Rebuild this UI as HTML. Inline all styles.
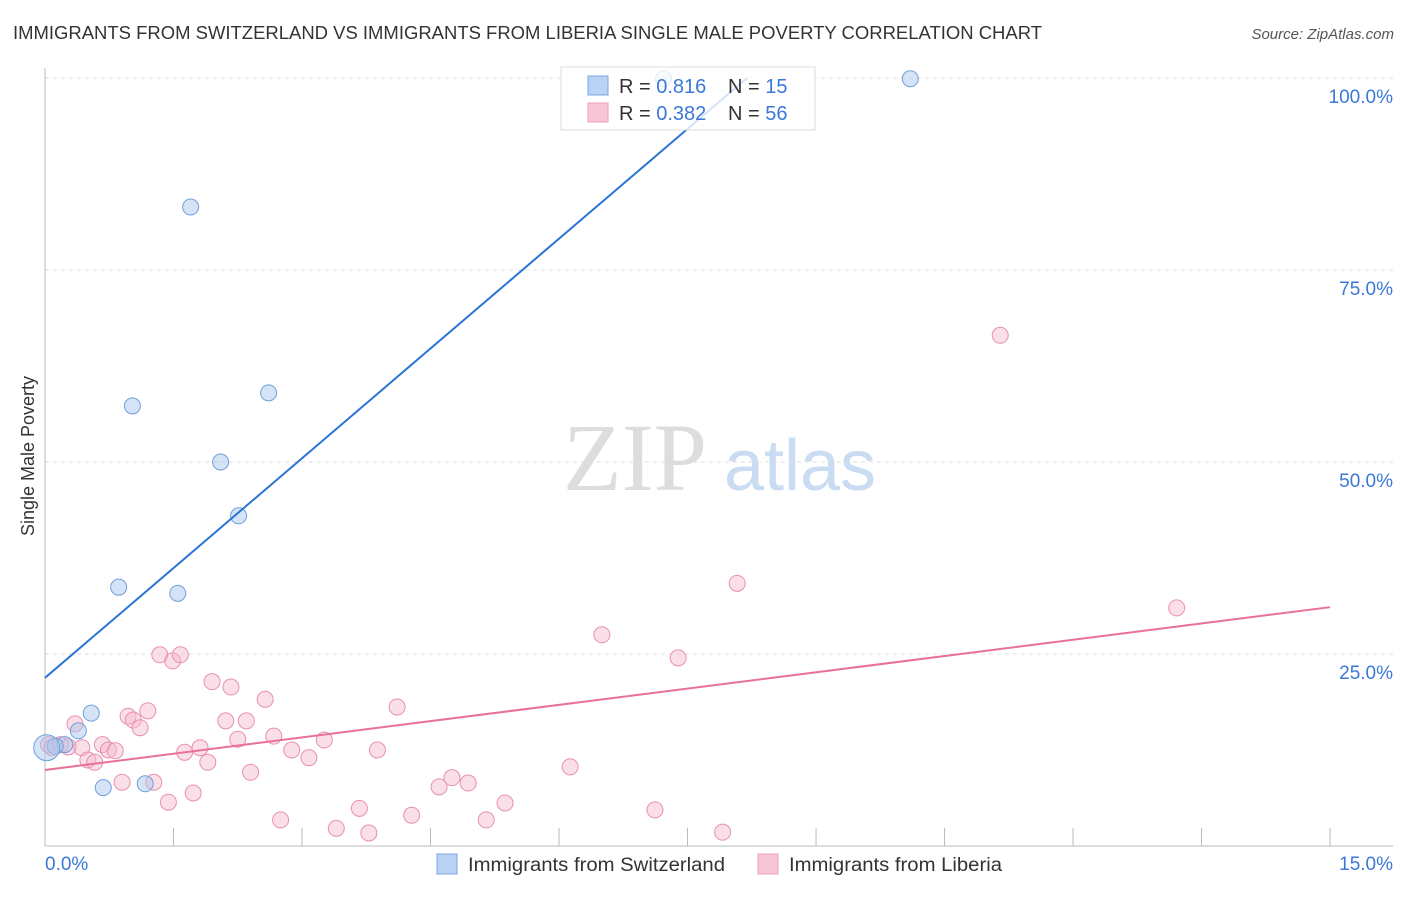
<!DOCTYPE html>
<html><head><meta charset="utf-8"><style>
body{margin:0;background:#fff;width:1406px;height:892px;overflow:hidden;font-family:"Liberation Sans",sans-serif}
</style></head><body>
<svg id="chart" width="1406" height="892" xmlns="http://www.w3.org/2000/svg" font-family="Liberation Sans, sans-serif">
<text x="13" y="39" font-size="18" fill="#333" textLength="1029" lengthAdjust="spacingAndGlyphs">IMMIGRANTS FROM SWITZERLAND VS IMMIGRANTS FROM LIBERIA SINGLE MALE POVERTY CORRELATION CHART</text>
<text x="1394" y="39" font-size="15" fill="#555" text-anchor="end" font-style="italic">Source: ZipAtlas.com</text>
<text transform="translate(34,456) rotate(-90)" font-size="18" fill="#333" text-anchor="middle">Single Male Poverty</text>
<g><text x="635" y="490" font-size="96" fill="#ddd" font-family="Liberation Serif, serif" text-anchor="middle">ZIP</text><text x="800" y="490" font-size="72" fill="#c9dcf2" text-anchor="middle">atlas</text></g>
<g id="grid"></g><g id="marks"></g>
<g>
<rect x="561" y="67" width="254" height="63" fill="#fff" fill-opacity="0.8" stroke="#ddd"/>
<rect x="588" y="76" width="20" height="19" fill="#b9d3f5" stroke="#7aa6e0"/>
<rect x="588" y="103" width="20" height="19" fill="#f9c6d6" stroke="#eca0b9"/>
<text x="619" y="93" font-size="20" fill="#333">R = <tspan fill="#3b78d8">0.816</tspan></text>
<text x="728" y="93" font-size="20" fill="#333">N = <tspan fill="#3b78d8"> 15</tspan></text>
<text x="619" y="120" font-size="20" fill="#333">R = <tspan fill="#3b78d8">0.382</tspan></text>
<text x="728" y="120" font-size="20" fill="#333">N = <tspan fill="#3b78d8">56</tspan></text>
</g>
<g>
<rect x="437" y="854" width="20" height="20" fill="#b9d3f5" stroke="#7aa6e0"/>
<text x="468" y="871" font-size="19" fill="#333" textLength="257" lengthAdjust="spacingAndGlyphs">Immigrants from Switzerland</text>
<rect x="758" y="854" width="20" height="20" fill="#f9c6d6" stroke="#eca0b9"/>
<text x="789" y="871" font-size="19" fill="#333" textLength="213" lengthAdjust="spacingAndGlyphs">Immigrants from Liberia</text>
</g>
</svg>
<script>
const yTicks=[25,50,75,100];
const yTickLabels=["25.0%","50.0%","75.0%","100.0%"];
const xTickLabels=["0.0%","15.0%"];
const blueX=[10.10,7.22,1.70,1.02,2.61,2.05,2.26,0.86,1.55,0.54,0.39,0.23,0.12,0.68,1.17,0.02];
const blueY=[99.9,99.9,83.2,57.3,59.0,50.0,43.0,33.7,32.9,17.3,15.0,13.2,13.0,7.6,8.1,12.8];
const pinkX=[0.04,0.08,0.18,0.27,0.35,0.43,0.50,0.58,0.67,0.74,0.82,0.90,0.97,1.03,1.11,1.20,1.27,1.34,1.44,1.49,1.58,1.63,1.73,1.81,1.90,1.95,2.11,2.17,2.25,2.35,2.40,2.57,2.67,2.75,2.88,3.08,3.26,3.40,3.67,3.78,3.88,4.11,4.28,4.60,4.75,4.94,5.15,5.37,6.13,6.50,7.12,7.39,7.91,8.08,11.15,13.21];
const pinkY=[13.2,12.8,13.2,12.9,15.9,12.8,11.2,10.9,13.2,12.5,12.4,8.3,16.9,16.4,15.4,17.6,8.3,24.9,5.7,24.1,24.9,12.2,6.9,12.8,10.9,21.4,16.3,20.7,13.9,16.3,9.6,19.1,14.3,3.4,12.5,11.5,13.8,2.3,4.9,1.7,12.5,18.1,4.0,7.7,8.9,8.2,3.4,5.6,10.3,27.5,4.7,24.5,1.8,34.2,66.5,31.0];
const blueFit=[21.9,9.53];
const pinkFit=[9.9,1.413];
const X=v=>45+v*85.67, Y=v=>846-v*7.68;
const NS="http://www.w3.org/2000/svg";
function mk(tag,a,parent){const e=document.createElementNS(NS,tag);for(const k in a)e.setAttribute(k,a[k]);parent.appendChild(e);return e;}
const g=document.getElementById('grid'), m=document.getElementById('marks');
yTicks.forEach((t,i)=>{
 const l=mk('line',{x1:45,x2:1393,y1:Y(t),y2:Y(t),stroke:'#ddd','stroke-dasharray':'4,4'},g);
 
 
 const tx=mk('text',{x:1393,y:Y(t)+25,'font-size':19,fill:'#3b78d8','text-anchor':'end'},g);tx.textContent=yTickLabels[i];
 
 
});
const ax=mk('line',{x1:45,x2:45,y1:68,y2:846,stroke:'#bbb'},g);


const bx=mk('line',{x1:45,x2:1393,y1:846,y2:846,stroke:'#bbb'},g);


for(let i=1;i<=10;i++){const t=mk('line',{x1:X(i*1.5),x2:X(i*1.5),y1:828,y2:846,stroke:'#bbb'},g);
 
 }
[[0,'start',45],[15,'end',1393]].forEach((d,i)=>{const t=mk('text',{x:d[2],y:870,'font-size':19,fill:'#3b78d8','text-anchor':d[1]},g);t.textContent=xTickLabels[i];
 
 });
pinkX.forEach((x,i)=>{const c=mk('circle',{cx:X(x),cy:Y(pinkY[i]),r:8,fill:'#f6b9cc','fill-opacity':0.45,stroke:'#e890ad','stroke-width':1},m);
 
 });
blueX.forEach((x,i)=>{const c=mk('circle',{cx:X(x),cy:Y(blueY[i]),r:i==15?13:8,fill:'#a9c8ee','fill-opacity':0.5,stroke:'#6f9fdc','stroke-width':1},m);
 
 });
const bEnd=(100-blueFit[0])/blueFit[1];
const bl=mk('line',{x1:X(0),y1:Y(blueFit[0]),x2:X(bEnd),y2:Y(100),stroke:'#2a74d8','stroke-width':2},m);


const pl=mk('line',{x1:X(0),y1:Y(pinkFit[0]),x2:X(15),y2:Y(pinkFit[0]+pinkFit[1]*15),stroke:'#e9709a','stroke-width':2},m);


</script>
</body></html>
